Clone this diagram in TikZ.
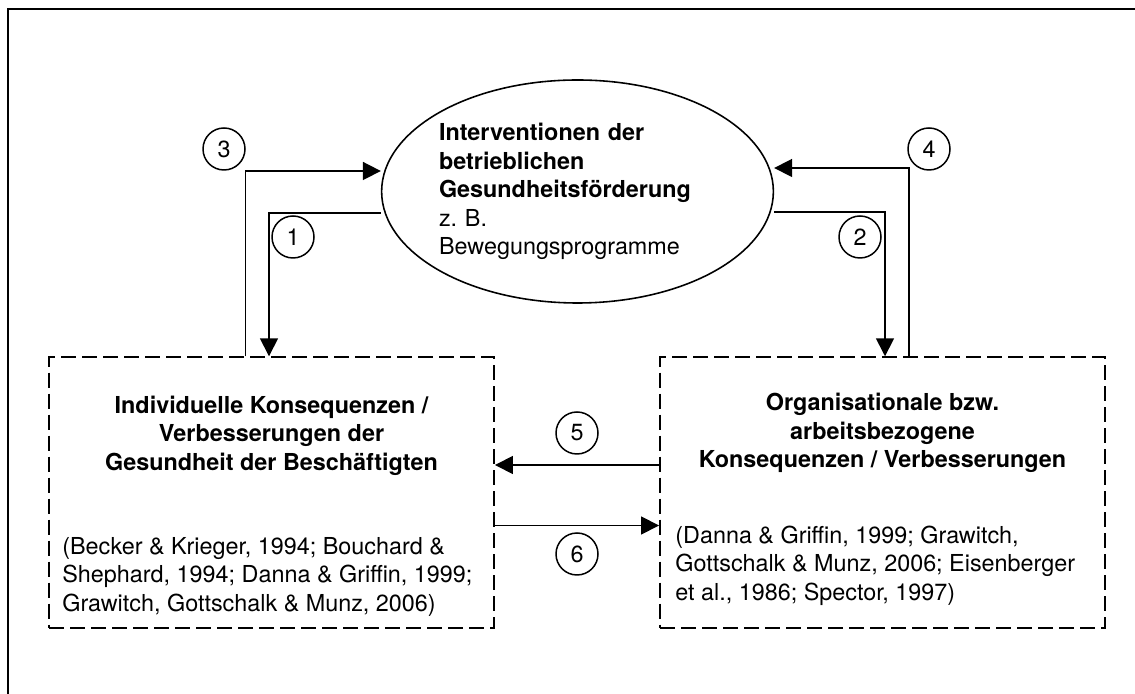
\documentclass[tikz,border=0pt]{standalone}
\usepackage{fontspec}
\setmainfont{TeX Gyre Heros}
\usetikzlibrary{arrows.meta}
\usetikzlibrary{shapes.geometric}

\def\fnt{\fontsize{13.3}{16.2}\selectfont}

\begin{document}
\begin{tikzpicture}[
  txt/.style={font=\fnt, inner sep=0pt},
  title/.style={font=\fnt\bfseries, inner sep=0pt, align=center},
  cite/.style={font=\fnt, inner sep=0pt, align=left, anchor=west},
  dashbox/.style={draw, line width=1.1pt, dash pattern=on 0.3cm off 0.12cm,
    minimum width=8.9cm, minimum height=5.41cm, inner sep=0pt},
  numcirc/.style={draw, circle, line width=0.85pt, minimum size=0.84cm,
    inner sep=0pt, font=\fnt},
  arr/.style={line width=0.95pt, -{Triangle[length=0.36cm,width=0.36cm]}}]
\useasboundingbox (0,0) rectangle (22.7,13.86);
\clip (0,0) rectangle (22.7,13.86);
\draw[line width=1.1pt] (0.16,-1) rectangle (24,13.68);
%
\node[draw, ellipse, line width=0.9pt, minimum width=7.78cm,
  minimum height=4.46cm, inner sep=0pt, text width=5.54cm, align=left,
  font=\fnt] (bgf) at (11.55,10.03)
  {\textbf{Interventionen der}\\ \textbf{betrieblichen}\\
   \textbf{Gesundheitsförderung}\\ z.~B.\\ Bewegungsprogramme};
%
\node[dashbox] (ind) at (5.43,4.01) {};
\node[dashbox] (org) at (17.65,4.01) {};
\node[title] (indtitle) at (5.43,5.15)
  {Individuelle Konsequenzen /\\ Verbesserungen der\\ Gesundheit der Beschäftigten};
\node[title] (orgtitle) at (17.65,5.2)
  {Organisationale bzw.\\ arbeitsbezogene\\ Konsequenzen / Verbesserungen};
\node[cite] (indcite) at (1.24,2.33)
  {(Becker \& Krieger, 1994; Bouchard \&\\ Shephard, 1994; Danna \& Griffin, 1999;\\ Grawitch, Gottschalk \& Munz, 2006)};
\node[cite] (orgcite) at (13.5,2.55)
  {(Danna \& Griffin, 1999; Grawitch,\\ Gottschalk \& Munz, 2006; Eisenberger\\ et al., 1986; Spector, 1997)};
%
\node[numcirc] (n1) at (5.86,9.12) {1};
\node[numcirc] (n2) at (17.2,9.12) {2};
\node[numcirc] (n3) at (4.48,10.88) {3};
\node[numcirc] (n4) at (18.58,10.88) {4};
\node[numcirc] (n5) at (11.54,5.2) {5};
\node[numcirc] (n6) at (11.54,2.78) {6};
%
\draw[arr] ([yshift=-0.43cm]bgf.west) -| ([xshift=-0.05cm]ind.north);
\draw[arr] ([yshift=-0.41cm]bgf.east) -| ([xshift=0.05cm]org.north);
\draw[arr] ([xshift=-0.52cm]ind.north) |- ([yshift=0.41cm]bgf.west);
\draw[arr] ([xshift=0.53cm]org.north) |- ([yshift=0.47cm]bgf.east);
\draw[arr] ([yshift=0.55cm]org.west) -- ([yshift=0.55cm]ind.east);
\draw[arr] ([yshift=-0.66cm]ind.east) -- ([yshift=-0.66cm]org.west);
\end{tikzpicture}
\end{document}
